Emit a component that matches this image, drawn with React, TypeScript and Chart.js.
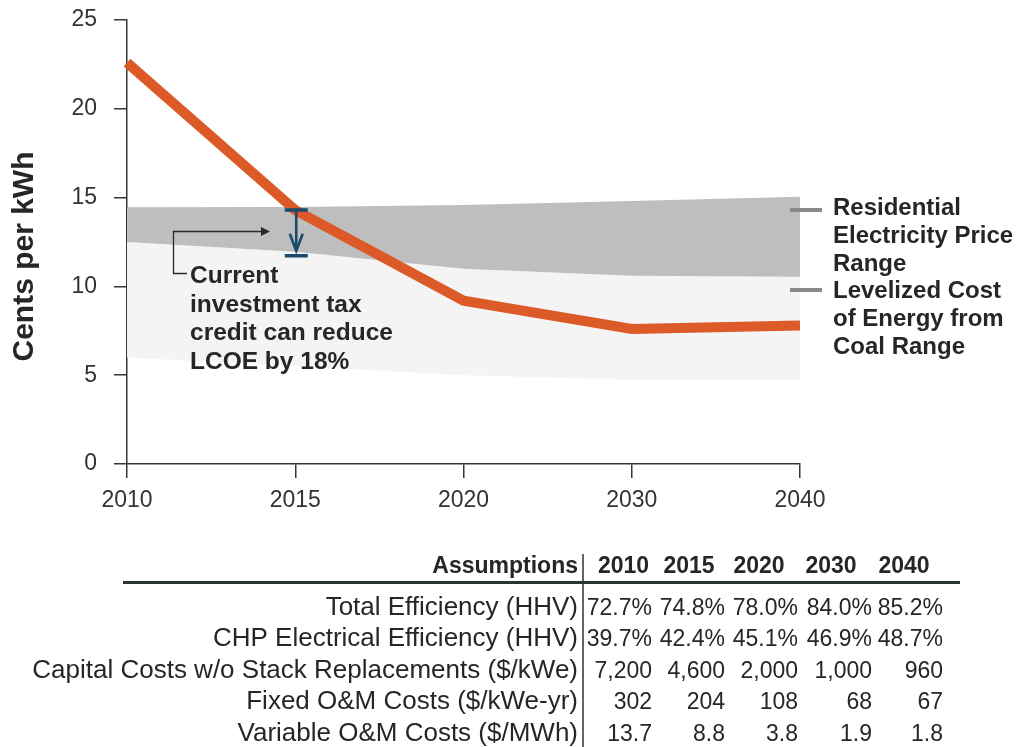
import { useEffect, useRef } from "react";
import { Chart, registerables } from "chart.js";

Chart.register(...registerables);

// ---- data ----
const years = ["2010", "2015", "2020", "2030", "2040"];
const lcoe = [22.6, 14.3, 9.2, 7.6, 7.8]; // fuel cell CHP LCOE, cents/kWh
const residentialHigh = [14.45, 14.47, 14.58, 14.81, 15.05];
const residentialLow = [12.5, 11.95, 11.0, 10.6, 10.55];
const coalHigh = [12.5, 11.95, 11.0, 10.6, 10.55];
const coalLow = [6.0, 5.5, 5.0, 4.75, 4.75];
const yMin = 0;
const yMax = 25;
const yStep = 5;

const itcYear = "2015";
const itcReduction = 0.18;
const noteLines = ["Current", "investment tax", "credit can reduce", "LCOE by 18%"];
const legendResidential = ["Residential", "Electricity Price", "Range"];
const legendCoal = ["Levelized Cost", "of Energy from", "Coal Range"];
const yTitle = "Cents per kWh";

const tableTitle = "Assumptions";
const tableYears = ["2010", "2015", "2020", "2030", "2040"];
const rowLabels = [
  "Total Efficiency (HHV)",
  "CHP Electrical Efficiency (HHV)",
  "Capital Costs w/o Stack Replacements ($/kWe)",
  "Fixed O&M Costs ($/kWe-yr)",
  "Variable O&M Costs ($/MWh)",
];
const totalEfficiency = ["72.7%", "74.8%", "78.0%", "84.0%", "85.2%"];
const chpEfficiency = ["39.7%", "42.4%", "45.1%", "46.9%", "48.7%"];
const capitalCosts = ["7,200", "4,600", "2,000", "1,000", "960"];
const fixedOM = ["302", "204", "108", "68", "67"];
const variableOM = ["13.7", "8.8", "3.8", "1.9", "1.8"];

// ---- styling ----
const FONT = '"Liberation Sans", Arial, sans-serif';
const TEXT = "#262626";
const AXIS = "#333835";
const ORANGE = "#dc5a27";
const NAVY = "#1b4a6c";

const overlay = {
  id: "overlay",
  afterDatasetsDraw(chart: any) {
    const { ctx, scales } = chart;
    const x = scales.x;
    const y = scales.y;
    const i = years.indexOf(itcYear);
    const px = x.getPixelForValue(i) + 1;
    const yTop = y.getPixelForValue(lcoe[i]);
    const yBot = y.getPixelForValue(lcoe[i] * (1 - itcReduction));

    ctx.save();
    // investment tax credit bracket
    ctx.strokeStyle = NAVY;
    ctx.lineCap = "butt";
    ctx.lineWidth = 3.5;
    ctx.beginPath();
    ctx.moveTo(px - 11.5, yTop);
    ctx.lineTo(px + 11.5, yTop);
    ctx.moveTo(px - 11.5, yBot);
    ctx.lineTo(px + 11.5, yBot);
    ctx.stroke();
    ctx.lineWidth = 2.6;
    ctx.beginPath();
    ctx.moveTo(px, yTop);
    ctx.lineTo(px, yBot - 5);
    ctx.stroke();
    ctx.beginPath();
    ctx.moveTo(px - 6.5, yBot - 22);
    ctx.lineTo(px, yBot - 5);
    ctx.lineTo(px + 6.5, yBot - 22);
    ctx.stroke();

    // leader from note to bracket
    ctx.strokeStyle = "#2a2a2a";
    ctx.fillStyle = "#2a2a2a";
    ctx.lineWidth = 1.3;
    ctx.beginPath();
    ctx.moveTo(187, 273.5);
    ctx.lineTo(173.5, 273.5);
    ctx.lineTo(173.5, 231.5);
    ctx.lineTo(262, 231.5);
    ctx.stroke();
    ctx.beginPath();
    ctx.moveTo(270, 231.5);
    ctx.lineTo(261, 227);
    ctx.lineTo(261, 236);
    ctx.closePath();
    ctx.fill();

    // note text
    ctx.fillStyle = TEXT;
    ctx.font = `bold 24.5px ${FONT}`;
    ctx.textAlign = "left";
    ctx.textBaseline = "alphabetic";
    noteLines.forEach((t, k) => ctx.fillText(t, 190, 283 + k * 28.5));
    ctx.restore();
  },
  afterDraw(chart: any) {
    const { ctx, chartArea } = chart;
    ctx.save();

    // y axis title
    ctx.save();
    ctx.translate(33, 256.5);
    ctx.rotate(-Math.PI / 2);
    ctx.fillStyle = TEXT;
    ctx.font = `bold 30px ${FONT}`;
    ctx.textAlign = "center";
    ctx.textBaseline = "alphabetic";
    ctx.fillText(yTitle, 0, 0);
    ctx.restore();

    // range labels at the right
    const lx = chartArea.right;
    ctx.strokeStyle = "#8a8a8a";
    ctx.lineWidth = 4;
    ctx.beginPath();
    ctx.moveTo(lx - 10, 210);
    ctx.lineTo(lx + 22, 210);
    ctx.moveTo(lx - 10, 290);
    ctx.lineTo(lx + 22, 290);
    ctx.stroke();
    ctx.fillStyle = TEXT;
    ctx.font = `bold 24px ${FONT}`;
    ctx.textAlign = "left";
    ctx.textBaseline = "alphabetic";
    [...legendResidential, ...legendCoal].forEach((t, k) =>
      ctx.fillText(t, lx + 33, 215 + k * 27.8)
    );

    // assumptions table
    const labelRight = 578;
    const headerCenters = [623.5, 689, 759, 831, 904];
    const valueRights = [652, 725, 798, 872, 943];
    const headerBase = 573;
    const rowBase = [614.5, 646, 677.5, 709, 740.5];
    const rows = [totalEfficiency, chpEfficiency, capitalCosts, fixedOM, variableOM];

    ctx.strokeStyle = "#2c3531";
    ctx.lineWidth = 3;
    ctx.beginPath();
    ctx.moveTo(123, 582.5);
    ctx.lineTo(960, 582.5);
    ctx.stroke();
    ctx.lineWidth = 1.5;
    ctx.beginPath();
    ctx.moveTo(583, 554);
    ctx.lineTo(583, 747);
    ctx.stroke();

    ctx.fillStyle = TEXT;
    ctx.font = `bold 23px ${FONT}`;
    ctx.textAlign = "right";
    ctx.fillText(tableTitle, labelRight, headerBase);
    ctx.textAlign = "center";
    tableYears.forEach((t, k) => ctx.fillText(t, headerCenters[k], headerBase));

    ctx.textAlign = "right";
    ctx.font = `26px ${FONT}`;
    rowLabels.forEach((t, r) => ctx.fillText(t, labelRight, rowBase[r]));
    ctx.font = `23px ${FONT}`;
    rows.forEach((vals, r) =>
      vals.forEach((v, k) => ctx.fillText(v, valueRights[k], rowBase[r]))
    );
    ctx.restore();
  },
};

export default function App() {
  const ref = useRef<HTMLCanvasElement | null>(null);

  useEffect(() => {
    if (!ref.current) return;
    const bandLine = {
      borderWidth: 0,
      borderColor: "rgba(0,0,0,0)",
      pointRadius: 0,
      tension: 0,
    };
    const chart = new Chart(ref.current, {
      type: "line",
      data: {
        labels: years,
        datasets: [
          {
            label: "LCOE",
            data: lcoe,
            borderColor: ORANGE,
            borderWidth: 10,
            pointRadius: 0,
            fill: false,
            tension: 0,
          },
          { ...bandLine, label: "Residential high", data: residentialHigh, backgroundColor: "#bebebe", fill: 2 },
          { ...bandLine, label: "Residential low", data: residentialLow, fill: false },
          { ...bandLine, label: "Coal high", data: coalHigh, backgroundColor: "#f3f4f3", fill: 4 },
          { ...bandLine, label: "Coal low", data: coalLow, fill: false },
        ],
      },
      options: {
        responsive: false,
        animation: false,
        devicePixelRatio: 1,
        layout: { padding: { left: 0, top: 20, right: 219, bottom: 233 } },
        plugins: {
          legend: { display: false },
          tooltip: { enabled: false },
          title: { display: false },
        },
        scales: {
          x: {
            type: "category",
            offset: false,
            border: { color: AXIS, width: 1.5 },
            grid: { drawOnChartArea: false, drawTicks: true, tickLength: 14, color: AXIS, lineWidth: 1.5 },
            ticks: {
              color: "#333",
              font: { family: FONT, size: 23 },
              padding: 9,
              maxRotation: 0,
              autoSkip: false,
            },
            afterFit: (s: any) => {
              s.height = 50;
            },
          },
          y: {
            min: yMin,
            max: yMax,
            border: { color: AXIS, width: 1.5 },
            grid: { drawOnChartArea: false, drawTicks: true, tickLength: 13, color: AXIS, lineWidth: 1.5 },
            ticks: {
              stepSize: yStep,
              color: "#333",
              font: { family: FONT, size: 23 },
              padding: 17,
            },
            afterFit: (s: any) => {
              s.width = 127;
              s.paddingTop = 0;
              s.paddingBottom = 0;
            },
          },
        },
      },
      plugins: [overlay],
    } as any);
    return () => chart.destroy();
  }, []);

  return (
    <div style={{ position: "absolute", left: 0, top: 0, width: 1019, height: 747, background: "#fff" }}>
      <canvas ref={ref} width={1019} height={747} style={{ display: "block" }} />
    </div>
  );
}
